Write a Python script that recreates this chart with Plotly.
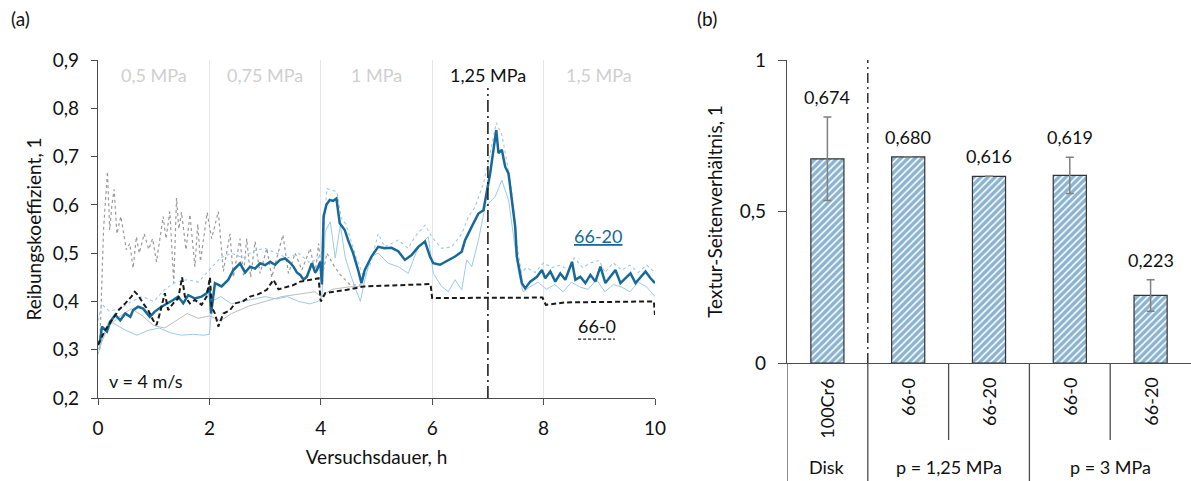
import plotly.graph_objects as go

# ---------------- (a) Reibungskoeffizient ----------------
t_blue = [0, .04, .07, .16, .22, .31, .40, .49, .58, .63, .72, .81, .93, 1.02, 1.14, 1.26, 1.35, 1.44, 1.53, 1.62,
          1.74, 1.86, 1.95, 2.0, 2.03, 2.1, 2.22, 2.34, 2.43, 2.55, 2.64, 2.73, 2.82, 2.91, 3.0, 3.09, 3.18, 3.27,
          3.36, 3.45, 3.51, 3.57, 3.63, 3.69, 3.75, 3.84, 3.9, 3.93, 3.99, 4.02, 4.05, 4.1, 4.16, 4.22, 4.28, 4.34,
          4.43, 4.49, 4.58, 4.67, 4.73, 4.79, 4.85, 4.91, 5.03, 5.15, 5.27, 5.39, 5.51, 5.63, 5.75, 5.87, 5.96,
          6.02, 6.14, 6.26, 6.41, 6.53, 6.59, 6.71, 6.83, 6.92, 6.98, 7.04, 7.10, 7.15, 7.19, 7.25, 7.31, 7.37,
          7.43, 7.49, 7.52, 7.61, 7.67, 7.76, 7.88, 7.97, 8.03, 8.12, 8.21, 8.3, 8.39, 8.51, 8.57, 8.66, 8.75,
          8.84, 8.93, 9.02, 9.11, 9.2, 9.29, 9.38, 9.47, 9.56, 9.65, 9.74, 9.83, 9.92, 10.0]
v_blue = [.31, .32, .348, .338, .358, .372, .361, .375, .368, .382, .389, .385, .368, .379, .389, .396, .403, .41,
          .396, .413, .406, .41, .417, .43, .375, .438, .431, .445, .465, .479, .46, .472, .468, .479, .475, .482,
          .476, .486, .489, .48, .472, .46, .455, .445, .451, .479, .46, .465, .482, .435, .576, .60, .61, .608,
          .613, .562, .548, .527, .50, .465, .438, .465, .48, .493, .513, .51, .511, .504, .486, .496, .513, .524,
          .493, .479, .476, .483, .493, .503, .527, .555, .582, .589, .624, .665, .714, .755, .707, .714, .679,
          .665, .61, .555, .493, .438, .427, .441, .451, .465, .448, .462, .441, .458, .445, .482, .445, .451,
          .438, .455, .441, .472, .438, .451, .465, .438, .448, .458, .438, .451, .462, .448, .438]

t_black = [0, .13, .25, .37, .49, .6, .66, .72, .81, .9, .99, 1.05, 1.11, 1.2, 1.26, 1.35, 1.44, 1.51, 1.56, 1.65,
           1.74, 1.86, 1.95, 2.01, 2.04, 2.1, 2.16, 2.25, 2.37, 2.46, 2.6, 2.73, 2.88, 3.03, 3.15, 3.24, 3.33,
           3.51, 3.63, 3.81, 3.96, 4.0, 4.08, 4.23, 4.47, 4.77, 5.37, 5.97, 6.0, 6.6, 7.98, 8.04, 8.4, 9.98, 10.0]
v_black = [.31, .341, .361, .382, .396, .41, .42, .413, .396, .382, .361, .351, .375, .417, .382, .396, .406, .45,
           .41, .396, .403, .393, .41, .45, .389, .375, .348, .375, .382, .396, .40, .41, .415, .424, .445, .425,
           .428, .434, .441, .445, .448, .40, .417, .42, .424, .431, .434, .436, .407, .407, .408, .393, .398,
           .40, .372]

t_gray_dot = [0.03, .10, .17, .21, .25, .29, .34, .41, .51, .57, .63, .69, .74, .83, .91, .98, 1.05, 1.17, 1.22,
              1.29, 1.36, 1.41, 1.45, 1.5, 1.58, 1.65, 1.74, 1.79, 1.84, 1.96, 2.04, 2.16, 2.25, 2.37, 2.43, 2.55,
              2.61, 2.67, 2.74, 2.82, 2.91, 3.03, 3.12, 3.32, 3.42, 3.54, 3.66, 3.81, 3.9, 3.96, 4.02, 4.11, 4.23,
              4.35, 4.53, 4.77]
v_gray_dot = [.30, .55, .669, .548, .60, .632, .54, .576, .507, .52, .469, .534, .50, .54, .508, .53, .482, .576,
              .53, .586, .438, .614, .55, .585, .507, .58, .472, .56, .483, .584, .53, .586, .462, .54, .45, .53,
              .454, .53, .45, .524, .458, .51, .45, .538, .458, .50, .465, .51, .458, .52, .45, .50, .475, .455,
              .434, .434]

t_gray = [0, .2, .4, .6, .8, 1.0, 1.2, 1.4, 1.6, 1.8, 2.0, 2.2, 2.4, 2.7, 3.0, 3.3, 3.6, 3.9, 4.0, 4.2, 4.5, 4.8]
v_gray = [.30, .35, .37, .385, .37, .35, .345, .36, .375, .365, .37, .36, .375, .39, .40, .41, .415, .42, .41,
          .425, .43, .432]

t_lb_up = [0, .07, .2, .4, .6, .8, 1.0, 1.2, 1.4, 1.6, 1.8, 1.95, 2.05, 2.2, 2.4, 2.6, 2.8, 3.0, 3.2, 3.4, 3.6,
           3.8, 3.95, 4.02, 4.11, 4.29, 4.37, 4.45, 4.64, 4.77, 4.9, 5.03, 5.15, 5.39, 5.57, 5.69, 5.87, 5.99,
           6.17, 6.35, 6.53, 6.65, 6.77, 6.92, 7.01, 7.10, 7.15, 7.25, 7.34, 7.43, 7.52, 7.6, 7.7, 7.85, 8.0,
           8.15, 8.3, 8.45, 8.55, 8.7, 8.85, 9.0, 9.1, 9.25, 9.4, 9.55, 9.7, 9.85, 10.0]
v_lb_up = [.36, .394, .38, .385, .40, .41, .40, .425, .44, .445, .44, .46, .472, .49, .50, .49, .505, .51, .50,
           .49, .50, .48, .49, .50, .634, .627, .572, .56, .49, .45, .48, .54, .513, .527, .51, .534, .558, .534,
           .51, .513, .54, .575, .596, .644, .69, .745, .77, .745, .69, .624, .52, .46, .47, .46, .48, .47, .475,
           .465, .49, .47, .48, .485, .46, .48, .465, .475, .46, .475, .46]

t_lb_lo = [0, .1, .2, .35, .5, .7, .9, 1.1, 1.3, 1.5, 1.7, 1.9, 2.0, 2.05, 2.2, 2.4, 2.6, 2.8, 3.0, 3.2, 3.4,
           3.6, 3.8, 3.95, 4.02, 4.08, 4.17, 4.26, 4.35, 4.44, 4.55, 4.71, 4.79, 4.9, 5.03, 5.21, 5.39, 5.57,
           5.75, 5.93, 6.02, 6.17, 6.29, 6.41, 6.53, 6.62, 6.71, 6.83, 6.95, 7.13, 7.25, 7.37, 7.46, 7.55, 7.63,
           7.75, 7.9, 8.05, 8.2, 8.35, 8.5, 8.65, 8.8, 8.95, 9.1, 9.25, 9.4, 9.55, 9.7, 9.85, 10.0]
v_lb_lo = [.29, .33, .36, .35, .34, .33, .34, .345, .335, .33, .332, .33, .332, .40, .41, .395, .40, .405, .41,
           .405, .41, .40, .395, .40, .41, .545, .565, .49, .558, .49, .45, .40, .445, .493, .50, .479, .472,
           .458, .513, .534, .458, .431, .42, .445, .424, .486, .472, .527, .596, .617, .651, .61, .54, .46, .42,
           .43, .44, .425, .435, .42, .44, .43, .425, .445, .42, .435, .43, .42, .44, .43, .41]

x_ticks_a = [0, 2, 4, 6, 8, 10]
y_ticks_a = [0.2, 0.3, 0.4, 0.5, 0.6, 0.7, 0.8, 0.9]
pressure_labels = ["0,5 MPa", "0,75 MPa", "1 MPa", "1,25 MPa", "1,5 MPa"]
pressure_centers = [1, 3, 5, 7, 9]

# ---------------- (b) Textur-Seitenverhältnis ----------------
categories = ["100Cr6", "66-0", "66-20", "66-0", "66-20"]
groups = ["Disk", "p = 1,25 MPa", "p = 3 MPa"]
group_centers = [0, 1.5, 3.5]
ratio_values = [0.674, 0.680, 0.616, 0.619, 0.223]
ratio_errors = [0.138, None, None, 0.06, 0.052]

FONT = "Lato"
DARKBLUE = "#17699a"
LIGHTBLUE = "#9ccbe6"
AXIS = "#4d4d4d"


def text_len_px(s):
    # rough width of a label in Lato 18px, used to top-align rotated labels
    w = {"-": 6.5, "C": 12.0, "r": 7.0}
    return sum(w.get(ch, 10.4) for ch in s)


fig = go.Figure()

fig.add_trace(go.Scatter(x=t_gray, y=v_gray, mode="lines", line=dict(color="#bdbdbd", width=1),
                         xaxis="x", yaxis="y", showlegend=False))
fig.add_trace(go.Scatter(x=t_gray_dot, y=v_gray_dot, mode="lines", line=dict(color="#9a9a9a", width=1.2, dash="dot"),
                         xaxis="x", yaxis="y", showlegend=False))
fig.add_trace(go.Scatter(x=t_lb_up, y=v_lb_up, mode="lines", line=dict(color=LIGHTBLUE, width=1.1, dash="dot"),
                         xaxis="x", yaxis="y", showlegend=False))
fig.add_trace(go.Scatter(x=t_lb_lo, y=v_lb_lo, mode="lines", line=dict(color=LIGHTBLUE, width=1),
                         xaxis="x", yaxis="y", showlegend=False))
fig.add_trace(go.Scatter(x=t_blue, y=v_blue, mode="lines", line=dict(color=DARKBLUE, width=2.5),
                         xaxis="x", yaxis="y", showlegend=False))
fig.add_trace(go.Scatter(x=t_black, y=v_black, mode="lines", line=dict(color="#1a1a1a", width=2, dash="5px,3px"),
                         xaxis="x", yaxis="y", showlegend=False))

fig.add_trace(go.Bar(
    x=list(range(len(categories))), y=ratio_values, width=0.41,
    marker=dict(color="white", line=dict(color="#333333", width=1.2),
                pattern=dict(shape="/", fgcolor="#1a6aa0", bgcolor="white", size=5, solidity=0.7)),
    error_y=dict(type="data", array=ratio_errors, color="#808080", thickness=1.5, width=4),
    xaxis="x2", yaxis="y2", showlegend=False))

annotations = []
shapes = []

for lab, c in zip(pressure_labels, pressure_centers):
    annotations.append(dict(x=c, y=0.9, xref="x", yref="y", text=lab, showarrow=False, yanchor="top", yshift=-2,
                            font=dict(family=FONT, size=18, color="#111111" if lab == "1,25 MPa" else "#cfcfcf")))
shapes.append(dict(type="line", xref="x", yref="y", x0=7, x1=7, y0=0.2, y1=0.842,
                   line=dict(color="#222222", width=1.6, dash="12px,4px,2px,4px")))
annotations.append(dict(x=8.97, y=0.536, xref="x", yref="y", text="<u>66-20</u>", showarrow=False,
                        font=dict(family=FONT, size=18, color=DARKBLUE)))
annotations.append(dict(x=8.95, y=0.349, xref="x", yref="y", text="66-0", showarrow=False,
                        font=dict(family=FONT, size=18, color="#111111")))
shapes.append(dict(type="line", xref="x", yref="y", x0=8.62, x1=9.28, y0=0.322, y1=0.322,
                   line=dict(color="#222222", width=1.2, dash="3px,2px")))
annotations.append(dict(x=0.16, y=0.236, xref="x", yref="y", text="v = 4 m/s", showarrow=False, xanchor="left",
                        font=dict(family=FONT, size=18, color="#111111")))
annotations.append(dict(x=9 / 1191, y=(481 - 19) / 481, xref="paper", yref="paper", text="(a)", showarrow=False,
                        xanchor="left", yanchor="middle", font=dict(family=FONT, size=19, color="#111111")))
annotations.append(dict(x=695 / 1191, y=(481 - 19) / 481, xref="paper", yref="paper", text="(b)", showarrow=False,
                        xanchor="left", yanchor="middle", font=dict(family=FONT, size=19, color="#111111")))

for i, (v, e) in enumerate(zip(ratio_values, ratio_errors)):
    top = v + (e or 0)
    annotations.append(dict(x=i, y=top, xref="x2", yref="y2", text=f"{v:.3f}".replace(".", ","), showarrow=False,
                            yanchor="bottom", yshift=7, font=dict(family=FONT, size=18, color="#111111")))
shapes.append(dict(type="line", xref="x2", yref="y2", x0=0.5, x1=0.5, y0=0, y1=1,
                   line=dict(color="#222222", width=1.4, dash="10px,4px,2px,4px")))
for i, c in enumerate(categories):
    ycenter_px = 378 + text_len_px(c) / 2
    annotations.append(dict(x=i, y=(481 - ycenter_px) / 481, xref="x2", yref="paper", text=c, showarrow=False,
                            textangle=-90, yanchor="middle", font=dict(family=FONT, size=18, color="#111111")))
for g, c in zip(groups, group_centers):
    annotations.append(dict(x=c, y=(481 - 467) / 481, xref="x2", yref="paper", text=g, showarrow=False,
                            yanchor="middle", font=dict(family=FONT, size=18, color="#111111")))
ybot = (481 - 363) / 481
for xv in [-0.5, 0.5, 2.5]:
    shapes.append(dict(type="line", xref="x2", yref="paper", x0=xv, x1=xv, y0=0, y1=ybot,
                       line=dict(color=AXIS, width=1.3)))
for xv in [1.5, 3.5]:
    shapes.append(dict(type="line", xref="x2", yref="paper", x0=xv, x1=xv, y0=(481 - 440) / 481, y1=ybot,
                       line=dict(color=AXIS, width=1.3)))

tickfont = dict(family=FONT, size=19, color="#111111")
titlefont = dict(family=FONT, size=19, color="#111111")

fig.update_layout(
    width=1191, height=481, autosize=False,
    margin=dict(l=0, r=0, t=0, b=0, pad=0),
    paper_bgcolor="white", plot_bgcolor="white",
    separators=",.",
    font=dict(family=FONT, color="#111111"),
    annotations=annotations, shapes=shapes,
    xaxis=dict(domain=[98 / 1191, 655 / 1191], range=[0, 10], tickvals=x_ticks_a, ticks="outside", ticklen=6,
               tickcolor=AXIS, showline=True, linecolor=AXIS, linewidth=1.3, showgrid=True, gridcolor="#e6e6e6",
               zeroline=False, tickfont=tickfont, ticklabelstandoff=7, automargin=False,
               title=dict(text="Versuchsdauer, h", font=titlefont, standoff=12), anchor="y"),
    yaxis=dict(domain=[(481 - 398) / 481, (481 - 60) / 481], range=[0.2, 0.9], tickvals=y_ticks_a,
               tickformat=".1f", ticks="outside", ticklen=6, tickcolor=AXIS, showline=True, linecolor=AXIS,
               linewidth=1.3, showgrid=False, zeroline=False, tickfont=tickfont, ticklabelstandoff=8,
               automargin=False,
               title=dict(text="Reibungskoeffizient, 1", font=titlefont, standoff=6), anchor="x"),
    xaxis2=dict(domain=[787 / 1191, 1.0], range=[-0.5, 4.5], showticklabels=False, ticks="", showline=True,
                linecolor=AXIS, linewidth=1.3, showgrid=False, zeroline=False, anchor="y2", automargin=False),
    yaxis2=dict(domain=[(481 - 363) / 481, (481 - 60) / 481], range=[0, 1], tickvals=[0, 0.5, 1],
                ticktext=["0", "0,5", "1"], ticks="outside", ticklen=8, tickcolor=AXIS, showline=True,
                linecolor=AXIS, linewidth=1.3, showgrid=False, zeroline=False, tickfont=tickfont,
                ticklabelstandoff=8, automargin=False,
                title=dict(text="Textur-Seitenverhältnis, 1", font=titlefont, standoff=12), anchor="x2"),
)

fig.write_html("out.html", config={"displayModeBar": False},
               post_script="document.body.style.margin='0';document.body.style.overflow='hidden';")
